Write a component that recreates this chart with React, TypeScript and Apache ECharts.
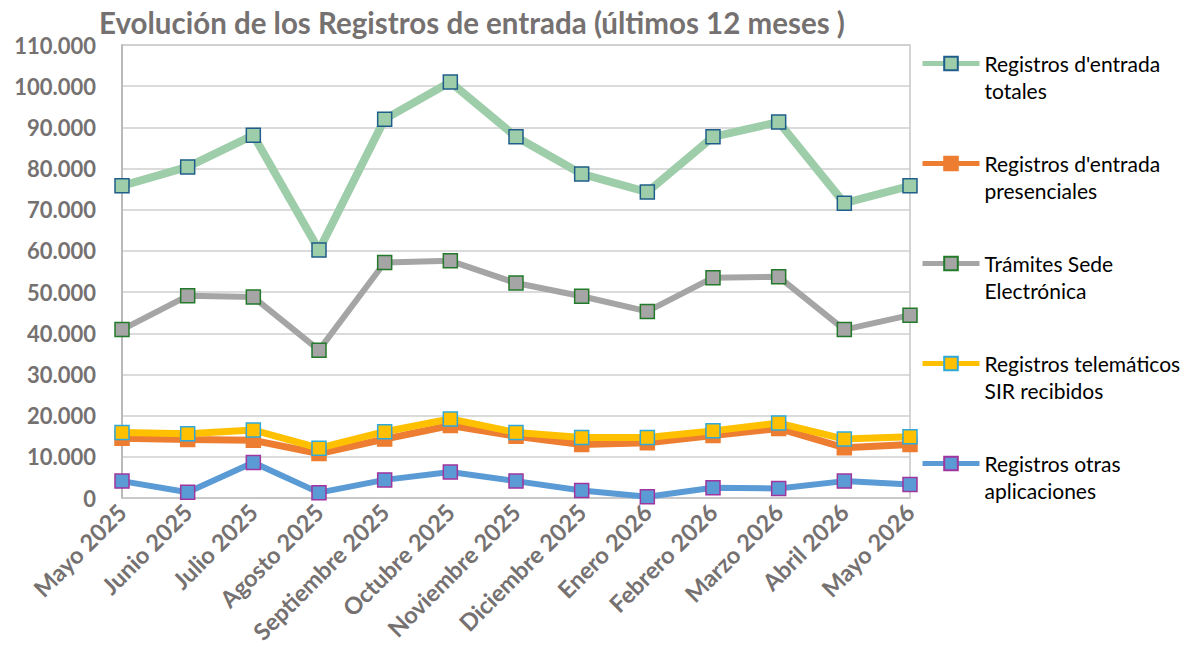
import React, { useEffect, useRef } from "react";
import * as echarts from "echarts";

const months = [
  "Mayo 2025", "Junio 2025", "Julio 2025", "Agosto 2025", "Septiembre 2025", "Octubre 2025",
  "Noviembre 2025", "Diciembre 2025", "Enero 2026", "Febrero 2026", "Marzo 2026", "Abril 2026", "Mayo 2026",
];
const totales = [75800, 80400, 88100, 60200, 92000, 101000, 87700, 78700, 74300, 87700, 91300, 71600, 75800];
const presenciales = [14500, 14200, 14000, 10800, 14300, 17600, 15000, 13000, 13400, 15200, 16900, 12200, 13000];
const sede = [40900, 49100, 48800, 35900, 57200, 57600, 52200, 49000, 45300, 53500, 53700, 40900, 44400];
const sir = [15900, 15600, 16500, 12100, 16100, 19200, 15900, 14700, 14700, 16300, 18200, 14300, 14900];
const otras = [4100, 1400, 8600, 1300, 4400, 6300, 4100, 1800, 300, 2500, 2300, 4100, 3300];

const seriesDefs = [
  { name: "Registros d'entrada\ntotales", data: totales, color: "#9ecda9", border: "#1f5e8a", width: 8 },
  { name: "Registros d'entrada\npresenciales", data: presenciales, color: "#ed7d31", border: "#ed7d31", width: 7 },
  { name: "Trámites Sede\nElectrónica", data: sede, color: "#a5a5a5", border: "#237a2a", width: 6 },
  { name: "Registros telemáticos\nSIR recibidos", data: sir, color: "#ffc000", border: "#2fa9d9", width: 7 },
  { name: "Registros otras\naplicaciones", data: otras, color: "#5b9bd5", border: "#a0359f", width: 6 },
];

const FONT = "Lato, 'Open Sans', sans-serif";

export default function App() {
  const ref = useRef<HTMLDivElement>(null);
  useEffect(() => {
    document.body.style.margin = "0";
    if (!ref.current) return;
    const chart = echarts.init(ref.current, null, { renderer: "svg" });
    chart.setOption({
      animation: false,
      title: {
        text: "Evolución de los Registros de entrada (últimos 12 meses )",
        left: 94,
        top: 2,
        textStyle: { fontFamily: FONT, fontSize: 29.5, fontWeight: "bold", color: "#767171" },
      },
      legend: {
        orient: "vertical",
        left: 920,
        top: 23,
        padding: 0,
        itemGap: 19,
        itemWidth: 57,
        itemHeight: 17,
        data: seriesDefs.map((s) => s.name),
        formatter: (n: string) => "\n" + n,
        lineStyle: { width: 5 },
        textStyle: {
          fontFamily: FONT,
          fontSize: 21,
          color: "#000",
          lineHeight: 27,
        },
      },
      grid: {
        left: 122,
        right: 288,
        top: 45,
        bottom: 170,
        show: true,
        borderColor: "#c6c6c6",
        borderWidth: 1.5,
      },
      xAxis: {
        type: "category",
        data: months,
        boundaryGap: false,
        axisLine: { lineStyle: { color: "#c6c6c6", width: 1.5 } },
        axisTick: { show: false },
        axisLabel: {
          rotate: 45,
          interval: 0,
          margin: 10,
          fontFamily: FONT,
          fontSize: 23.5,
          fontWeight: "bold",
          color: "#767171",
        },
      },
      yAxis: {
        type: "value",
        min: 0,
        max: 110000,
        interval: 10000,
        axisLine: { show: true, lineStyle: { color: "#b0b0b0", width: 1.5 } },
        axisTick: { show: false },
        splitLine: { lineStyle: { color: "#cfcfcf", width: 1.5 } },
        axisLabel: {
          margin: 26,
          fontFamily: FONT,
          fontSize: 22,
          fontWeight: "bold",
          color: "#767171",
          formatter: (v: number) => v.toLocaleString("de-DE"),
        },
      },
      series: seriesDefs.map((s) => ({
        type: "line",
        name: s.name,
        data: s.data,
        symbol: "rect",
        symbolSize: 14,
        lineStyle: { color: s.color, width: s.width },
        itemStyle: { color: s.color, borderColor: s.border, borderWidth: 1.5 },
        z: 2,
      })),
    });
    return () => chart.dispose();
  }, []);
  return <div ref={ref} style={{ width: 1198, height: 668 }} />;
}
